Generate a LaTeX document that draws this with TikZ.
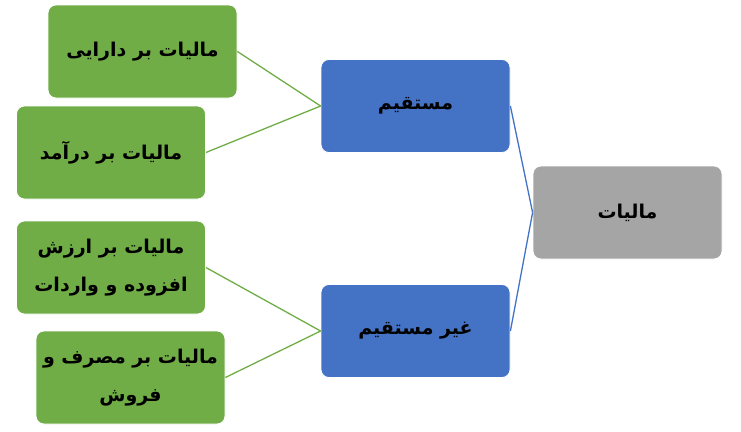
\documentclass[tikz,border=0pt]{standalone}
\usepackage{fontspec}
\TeXXeTstate=1
\newfontfamily\arabicfont[Script=Arabic]{DejaVu Sans}
\definecolor{grn}{HTML}{70AD47}
\definecolor{blu}{HTML}{4472C4}
\definecolor{gry}{HTML}{A5A5A5}
\begin{document}
\begin{tikzpicture}[x=1pt,y=-1pt,
  box/.style={rounded corners=8pt, draw=white, line width=0.8pt,
    minimum width=189pt, minimum height=93pt, align=center, inner sep=2pt,
    font=\arabicfont\bfseries\fontsize{19}{38}\selectfont, text=black},
  gbox/.style={box, fill=grn},
  bbox/.style={box, fill=blu},
  ybox/.style={box, fill=gry},
  gline/.style={draw=grn, line width=1.3pt},
  bline/.style={draw=blu, line width=1.3pt}]
\useasboundingbox (0,0) rectangle (741,431);
\node[ybox] (tax) at (627.5,212.5) {\beginR مالیات\endR};
\node[bbox] (dir) at (415.5,106) {\beginR مستقیم\endR};
\node[bbox] (ind) at (415.5,331) {\beginR غیر مستقیم\endR};
\node[gbox] (g1) at (142.5,51.5) {\beginR مالیات بر دارایی\endR};
\node[gbox] (g2) at (111,152.5) {\beginR مالیات بر درآمد\endR};
\node[gbox] (g3) at (111,267.5) {\beginR مالیات بر ارزش\endR\\\beginR افزوده و واردات\endR};
\node[gbox] (g4) at (130.5,377.5) {\beginR مالیات بر مصرف و\endR\\\beginR فروش\endR};
\draw[bline] (tax.west) -- (dir.east);
\draw[bline] (tax.west) -- (ind.east);
\draw[gline] (dir.west) -- (g1.east);
\draw[gline] (dir.west) -- (g2.east);
\draw[gline] (ind.west) -- (g3.east);
\draw[gline] (ind.west) -- (g4.east);
\end{tikzpicture}
\end{document}
